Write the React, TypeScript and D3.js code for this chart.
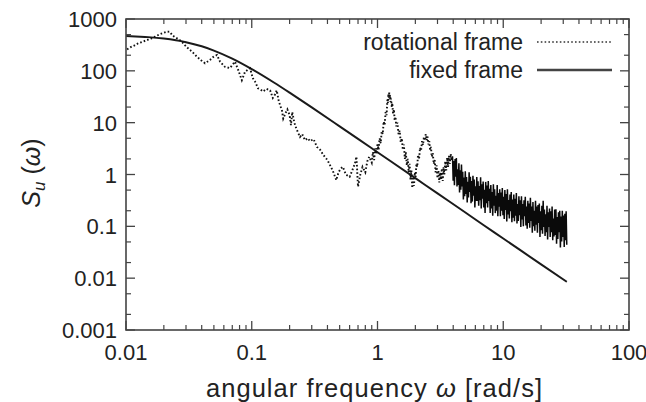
import React from "react";
import * as d3 from "d3";

const W = 646;
const H = 402;

const xTickValues = [0.01, 0.1, 1, 10, 100];
const xTickLabels = ["0.01", "0.1", "1", "10", "100"];
const yTickValues = [0.001, 0.01, 0.1, 1, 10, 100, 1000];
const yTickLabels = ["0.001", "0.01", "0.1", "1", "10", "100", "1000"];

// fixed frame (smooth spectrum)
const fixedOmega = [0.01, 0.013, 0.015, 0.02, 0.03, 0.04, 0.05, 0.07, 0.1, 0.15, 0.2, 0.3, 0.5, 0.7, 1, 2, 3, 5, 7, 10, 20, 32];
const fixedS = [472, 457, 447, 419, 357, 297, 246, 172, 108, 59.5, 37.9, 19.7, 8.5, 4.87, 2.69, 0.849, 0.432, 0.185, 0.105, 0.0583, 0.0184, 0.0085];

// rotational frame, low-frequency part (omega, S)
const rotOmega = [
  0.0102, 0.0108, 0.0117, 0.0125, 0.0136, 0.0147, 0.0158, 0.017, 0.0183, 0.0197,
  0.021, 0.0222, 0.0236, 0.0256, 0.0278, 0.0295, 0.031, 0.0338, 0.0367, 0.0395,
  0.0425, 0.0465, 0.05, 0.0529, 0.056, 0.061, 0.067, 0.0736, 0.078, 0.0834,
  0.0885, 0.097, 0.102, 0.107, 0.112, 0.117, 0.123, 0.131, 0.14, 0.147,
  0.153, 0.158, 0.164, 0.17, 0.174, 0.178, 0.185, 0.192, 0.2, 0.205,
  0.21, 0.218, 0.225, 0.233, 0.242, 0.252, 0.265, 0.28, 0.29, 0.31,
  0.33, 0.35, 0.37, 0.4, 0.42, 0.44, 0.47, 0.49, 0.51, 0.53,
  0.56, 0.6, 0.63, 0.66, 0.68, 0.7, 0.73, 0.76, 0.8, 0.83,
  0.86, 0.9, 0.92, 0.94, 0.96, 0.98, 1.0, 1.02, 1.04, 1.06,
  1.08, 1.1, 1.12, 1.14, 1.16, 1.18, 1.2, 1.21, 1.22, 1.23,
  1.24, 1.25, 1.26, 1.27, 1.28, 1.3, 1.31, 1.33, 1.35, 1.37,
  1.39, 1.41, 1.44, 1.47, 1.5, 1.53, 1.56, 1.59, 1.62, 1.65,
  1.68, 1.71, 1.74, 1.77, 1.8, 1.83, 1.86, 1.89, 1.92, 1.95,
  1.98, 2.01, 2.04, 2.07, 2.1, 2.14, 2.18, 2.22, 2.26, 2.3,
  2.34, 2.38, 2.42, 2.46, 2.5, 2.54, 2.58, 2.62, 2.66, 2.7,
  2.75, 2.8, 2.85, 2.9, 2.95, 3.0, 3.05, 3.1, 3.15, 3.2,
  3.25, 3.3, 3.35, 3.4, 3.46, 3.52, 3.58, 3.64, 3.7, 3.76,
  3.82, 3.88,
];
const rotS = [
  260, 284, 310, 340, 365, 393, 420, 455, 500, 537,
  565, 570, 476, 420, 365, 310, 275, 230, 187, 160,
  140, 162, 190, 202, 150, 120, 113, 150, 104, 66,
  96, 112, 72, 60, 46, 44, 40, 45, 42, 30,
  35, 42, 26, 20, 17, 12, 15, 18, 14, 9,
  16, 10, 8, 6.5, 5.3, 6.0, 4.6, 5.0, 4.4, 4.8,
  3.4, 3.0, 2.4, 1.9, 1.5, 1.2, 0.78, 1.1, 1.3, 1.4,
  1.0, 0.9, 1.2, 1.6, 2.2, 0.58, 1.0, 1.4, 1.1, 1.8,
  2.2, 1.7, 2.7, 1.9, 3.2, 2.5, 3.8, 3.0, 5.0, 4.0,
  6.8, 6.0, 10.5, 9.0, 16, 14, 28, 24, 36, 30,
  38, 28, 34, 25, 29, 20, 24, 15, 18, 11,
  13, 8.5, 10, 6.0, 7.0, 4.2, 5.0, 3.0, 3.8, 2.0,
  2.7, 1.5, 2.0, 1.1, 1.6, 0.8, 1.2, 0.55, 0.9, 0.6,
  1.1, 0.9, 1.6, 1.4, 2.4, 2.0, 3.3, 2.9, 4.4, 3.7,
  5.3, 4.5, 6.0, 4.6, 5.4, 3.8, 4.4, 3.0, 3.4, 2.2,
  2.6, 1.6, 1.9, 1.1, 1.5, 0.85, 1.2, 0.7, 1.1, 0.8,
  1.3, 0.75, 1.4, 1.0, 1.8, 1.2, 2.1, 1.4, 2.3, 1.6,
  2.5, 1.9,
];

// rotational frame, dense high-frequency band (omega from 3.95 to 32, log-spaced samples)
const bandStart = 3.95;
const bandEnd = 32;
const bandS = [
  2.24, 0.76, 1.82, 0.62, 2.0, 0.91, 2.09, 0.59, 1.26, 0.63,
  1.64, 0.45, 1.2, 0.51, 1.55, 0.59, 1.13, 0.33, 0.87, 0.38,
  1.15, 0.42, 0.89, 0.29, 0.72, 0.36, 1.11, 0.46, 0.9, 0.28,
  0.75, 0.3, 0.94, 0.39, 0.8, 0.23, 0.59, 0.31, 0.89, 0.31,
  0.74, 0.25, 0.6, 0.32, 0.88, 0.22, 0.65, 0.34, 0.73, 0.23,
  0.51, 0.18, 0.72, 0.28, 0.61, 0.23, 0.75, 0.31, 0.53, 0.18,
  0.63, 0.22, 0.46, 0.16, 0.65, 0.25, 0.52, 0.18, 0.39, 0.2,
  0.63, 0.157, 0.44, 0.24, 0.52, 0.157, 0.45, 0.2, 0.55, 0.164,
  0.37, 0.139, 0.5, 0.206, 0.42, 0.124, 0.52, 0.17, 0.32, 0.141,
  0.41, 0.195, 0.46, 0.12, 0.33, 0.147, 0.41, 0.125, 0.34, 0.16,
  0.44, 0.114, 0.27, 0.127, 0.38, 0.164, 0.32, 0.097, 0.38, 0.136,
  0.27, 0.1, 0.32, 0.157, 0.37, 0.104, 0.24, 0.09, 0.31, 0.116,
  0.275, 0.094, 0.355, 0.127, 0.24, 0.075, 0.295, 0.1, 0.2, 0.082,
  0.31, 0.108, 0.24, 0.075, 0.257, 0.116, 0.275, 0.062, 0.195, 0.084,
  0.25, 0.072, 0.31, 0.097, 0.21, 0.065, 0.17, 0.077, 0.25, 0.056,
  0.186, 0.097, 0.22, 0.062, 0.195, 0.077, 0.24, 0.054, 0.141, 0.064,
  0.21, 0.068, 0.214, 0.046, 0.151, 0.057, 0.186, 0.077, 0.2, 0.039,
  0.155, 0.051, 0.2, 0.062, 0.162, 0.04, 0.174, 0.054, 0.195, 0.044,
];

const FONT = "'Liberation Sans', Arial, Helvetica, sans-serif";
const TEXT = "#222";
const AXIS = "#444";

export default function App() {
  const left = 126, right = 629, top = 19, bottom = 330;
  const x = d3.scaleLog().domain([0.01, 100]).range([left, right]);
  const y = d3.scaleLog().domain([0.001, 1000]).range([bottom, top]);

  const fixedPts: [number, number][] = fixedOmega.map((w, i) => [w, fixedS[i]]);
  const n = bandS.length;
  const bandPts: [number, number][] = bandS.map((s, i) => [
    bandStart * Math.pow(bandEnd / bandStart, i / (n - 1)),
    s,
  ]);
  const lowPts: [number, number][] = rotOmega.map((w, i) => [w, rotS[i]] as [number, number]);
  const bandPath: [number, number][] = [lowPts[lowPts.length - 1]].concat(bandPts);

  const line = d3
    .line<[number, number]>()
    .x((d) => x(d[0]))
    .y((d) => y(d[1]));
  const smooth = d3
    .line<[number, number]>()
    .x((d) => x(d[0]))
    .y((d) => y(d[1]))
    .curve(d3.curveMonotoneX);

  const xMinor: number[] = [];
  for (let e = -2; e < 2; e++) for (let k = 2; k <= 9; k++) xMinor.push(k * Math.pow(10, e));
  const yMinor: number[] = [];
  for (let e = -3; e < 3; e++) for (const k of [2, 5]) yMinor.push(k * Math.pow(10, e));

  const MAJ = 9, MIN = 5;

  return (
    <svg
      width={W}
      height={H}
      style={{ position: "absolute", left: 0, top: 0, background: "#fff" }}
      fontFamily={FONT}
    >
      <rect x={0} y={0} width={W} height={H} fill="#fff" />
      <path d={smooth(fixedPts) || ""} fill="none" stroke="#1a1a1a" strokeWidth={2} />
      <path
        d={line(lowPts) || ""}
        fill="none"
        stroke="#111"
        strokeWidth={1.9}
        strokeDasharray="1.6 2.1"
      />
      <path
        d={line(bandPath) || ""}
        fill="none"
        stroke="#0a0a0a"
        strokeWidth={1.5}
      />

      <rect x={left} y={top} width={right - left} height={bottom - top} fill="none" stroke={AXIS} strokeWidth={1.6} />

      {xTickValues.map((v) => (
        <g key={"xM" + v}>
          <line x1={x(v)} x2={x(v)} y1={bottom} y2={bottom - MAJ} stroke={AXIS} strokeWidth={1.3} />
          <line x1={x(v)} x2={x(v)} y1={top} y2={top + MAJ} stroke={AXIS} strokeWidth={1.3} />
        </g>
      ))}
      {xMinor.map((v) => (
        <g key={"xm" + v}>
          <line x1={x(v)} x2={x(v)} y1={bottom} y2={bottom - MIN} stroke={AXIS} strokeWidth={1.2} />
          <line x1={x(v)} x2={x(v)} y1={top} y2={top + MIN} stroke={AXIS} strokeWidth={1.2} />
        </g>
      ))}
      {yTickValues.map((v) => (
        <g key={"yM" + v}>
          <line x1={left} x2={left + MAJ} y1={y(v)} y2={y(v)} stroke={AXIS} strokeWidth={1.3} />
          <line x1={right} x2={right - MAJ} y1={y(v)} y2={y(v)} stroke={AXIS} strokeWidth={1.3} />
        </g>
      ))}
      {yMinor.map((v) => (
        <g key={"ym" + v}>
          <line x1={left} x2={left + MIN} y1={y(v)} y2={y(v)} stroke={AXIS} strokeWidth={1.2} />
          <line x1={right} x2={right - MIN} y1={y(v)} y2={y(v)} stroke={AXIS} strokeWidth={1.2} />
        </g>
      ))}

      {xTickValues.map((v, i) => (
        <text key={"xl" + v} x={x(v)} y={360} textAnchor="middle" fontSize={22} fill={TEXT}>
          {xTickLabels[i]}
        </text>
      ))}
      {yTickValues.map((v, i) => (
        <text key={"yl" + v} x={117} y={y(v) + 8} textAnchor="end" fontSize={22} fill={TEXT}>
          {yTickLabels[i]}
        </text>
      ))}

      <text x={374} y={397} textAnchor="middle" fontSize={25.5} fill={TEXT} textLength={336} lengthAdjust="spacing">
        angular frequency <tspan fontStyle="italic">ω</tspan> [rad/s]
      </text>
      <text transform="translate(40,173) rotate(-90)" textAnchor="middle" fontSize={25} fill={TEXT}>
        <tspan fontStyle="italic">S</tspan>
        <tspan fontStyle="italic" fontSize={17} dy={5}>u</tspan>
        <tspan dy={-5}> (</tspan>
        <tspan fontStyle="italic">ω</tspan>
        <tspan>)</tspan>
      </text>

      <text x={523} y={50} textAnchor="end" fontSize={23} fill={TEXT}>rotational frame</text>
      <line x1={537} x2={612} y1={42} y2={42} stroke="#333" strokeWidth={1.7} strokeDasharray="1.6 2.2" />
      <text x={523} y={78} textAnchor="end" fontSize={23} fill={TEXT}>fixed frame</text>
      <line x1={537} x2={612} y1={70} y2={70} stroke="#444" strokeWidth={2.4} />
    </svg>
  );
}
